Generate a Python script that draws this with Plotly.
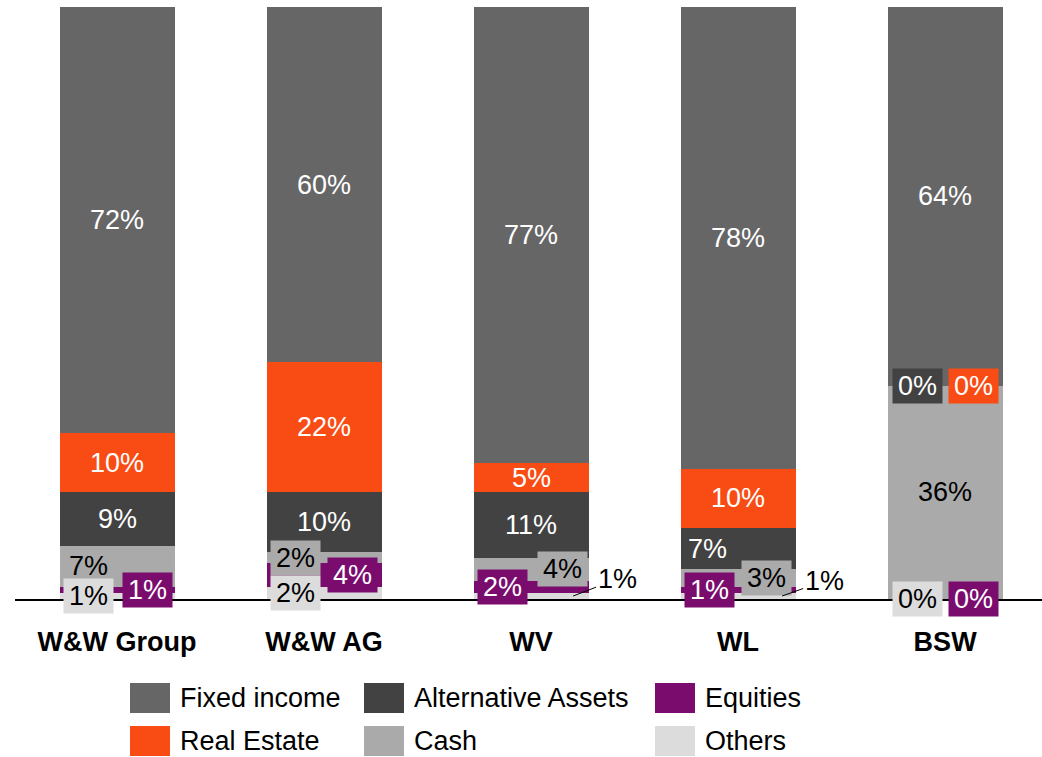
import plotly.graph_objects as go

categories = ["W&W Group", "W&W AG", "WV", "WL", "BSW"]

# shares in %, stacked bottom -> top
others = [1, 2, 1, 1, 0]
equities = [1, 4, 2, 1, 0]
cash = [7, 2, 4, 3, 36]
alternative_assets = [9, 10, 11, 7, 0]
real_estate = [10, 22, 5, 10, 0]
fixed_income = [72, 60, 77, 78, 64]

series = [
    ("Others", others, "#DCDCDC", "black"),
    ("Equities", equities, "#7A0C6E", "white"),
    ("Cash", cash, "#AAAAAA", "black"),
    ("Alternative Assets", alternative_assets, "#424242", "white"),
    ("Real Estate", real_estate, "#F94B14", "white"),
    ("Fixed income", fixed_income, "#666666", "white"),
]

FONT = "Liberation Sans, Arial, sans-serif"
FS = 27
W, H = 1042, 757
ML, MR, MT, MB = 15, 0, 7, 158

# horizontal nudges for the small boxed labels (pixels)
label_shift = {
    ("Cash", "W&W Group"): -29, ("Equities", "W&W Group"): 30, ("Others", "W&W Group"): -29,
    ("Cash", "W&W AG"): -29, ("Equities", "W&W AG"): 28, ("Others", "W&W AG"): -29,
    ("Cash", "WV"): 31, ("Equities", "WV"): -29,
    ("Alternative Assets", "WL"): -31, ("Cash", "WL"): 28, ("Equities", "WL"): -29,
    ("Alternative Assets", "BSW"): -28, ("Real Estate", "BSW"): 28,
    ("Others", "BSW"): -28, ("Equities", "BSW"): 28,
}
# labels with a leader line: (xshift of tip, ax, ay)
leader = {("Others", "WV"): (42, 44, -17), ("Others", "WL"): (44, 42, -15)}

fig = go.Figure()
for name, vals, color, _ in series:
    fig.add_trace(go.Bar(x=categories, y=vals, name=name, marker_color=color,
                         marker_line_width=0, hoverinfo="skip"))

# stack bases
bases = {}
run = [0] * len(categories)
for name, vals, _, _ in series:
    bases[name] = list(run)
    run = [r + v for r, v in zip(run, vals)]

annotations = []
for name, vals, color, tcolor in reversed(series):
    for i, cat in enumerate(categories):
        ymid = bases[name][i] + vals[i] / 2
        txt = "{}%".format(vals[i])
        key = (name, cat)
        if key in leader:
            dx, ax, ay = leader[key]
            annotations.append(dict(x=cat, y=ymid, text=txt, xshift=dx, showarrow=True,
                                    arrowhead=0, arrowwidth=1, arrowcolor="black",
                                    ax=ax, ay=ay, font=dict(family=FONT, size=FS, color="black")))
        elif key in label_shift:
            annotations.append(dict(x=cat, y=ymid, text=txt, showarrow=False,
                                    xshift=label_shift[key],
                                    bgcolor=color, width=45, height=30, borderpad=2,
                                    font=dict(family=FONT, size=FS, color=tcolor)))
        else:
            annotations.append(dict(x=cat, y=ymid, text=txt, showarrow=False,
                                    font=dict(family=FONT, size=FS, color=tcolor)))

# hand-drawn legend with large swatches
def px_x(px):
    return (px - ML) / (W - ML - MR)

def px_y(py):
    return (H - MB - py) / (H - MT - MB)

legend_order = ["Fixed income", "Alternative Assets", "Equities", "Real Estate", "Cash", "Others"]
col_left = [130, 364, 655]
row_top = [683, 726]
colors = {s[0]: s[2] for s in series}
shapes = []
for k, name in enumerate(legend_order):
    c, r = k % 3, k // 3
    x0, y0 = col_left[c], row_top[r]
    shapes.append(dict(type="rect", xref="paper", yref="paper", x0=px_x(x0), x1=px_x(x0 + 40),
                       y0=px_y(y0 + 30), y1=px_y(y0), fillcolor=colors[name], line_width=0))
    annotations.append(dict(xref="paper", yref="paper", x=px_x(x0 + 48), y=px_y(y0 + 15),
                            xanchor="left", yanchor="middle", text=name, showarrow=False,
                            font=dict(family=FONT, size=FS, color="black")))

fig.update_layout(
    barmode="stack", bargap=0.444, width=W, height=H,
    margin=dict(l=ML, r=MR, t=MT, b=MB),
    plot_bgcolor="white", paper_bgcolor="white", showlegend=False,
    annotations=annotations, shapes=shapes,
    font=dict(family=FONT, size=FS, color="black"),
)
fig.update_xaxes(showline=True, linecolor="black", linewidth=2, ticks="",
                 range=[-0.493, 4.468],
                 tickfont=dict(family=FONT, size=FS, color="black", weight="bold"),
                 ticklabelstandoff=18, showgrid=False)
fig.update_yaxes(range=[0, 100], visible=False, showgrid=False)

fig.write_html("out.html", config={"displayModeBar": False},
               post_script="document.body.style.margin='0';")
